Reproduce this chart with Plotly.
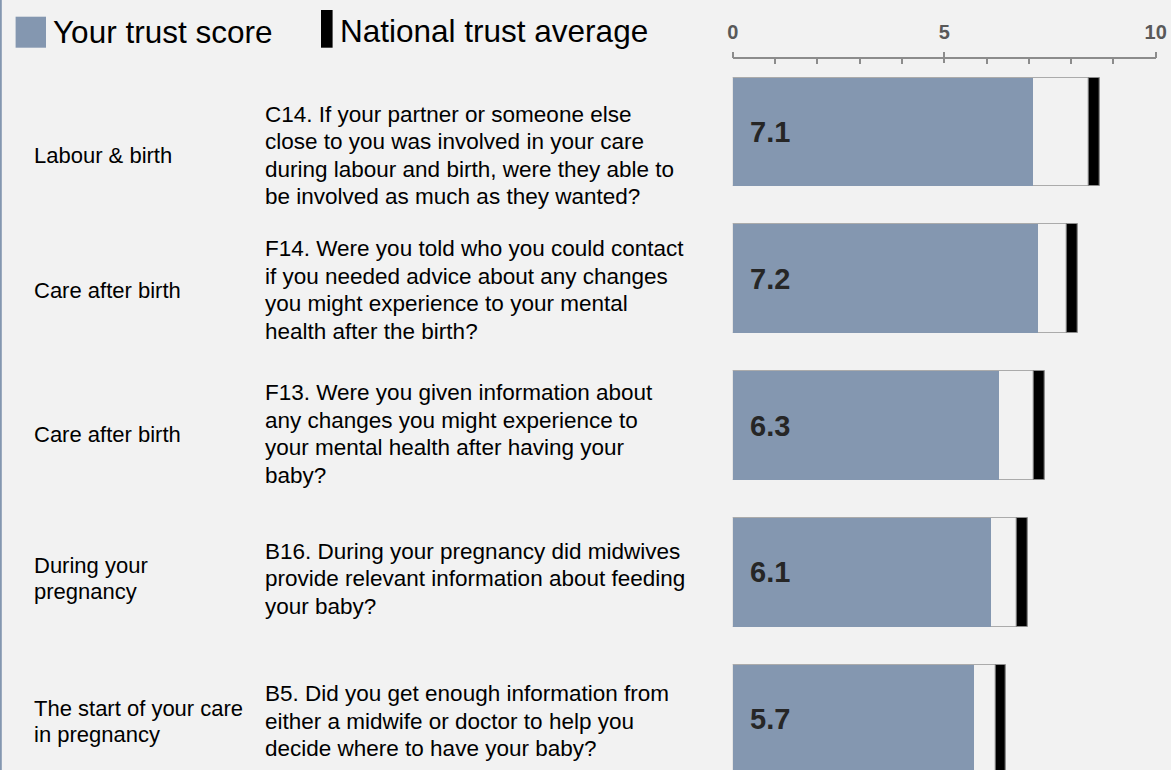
import plotly.graph_objects as go

# ---------------- data ----------------
categories = [
    ["Labour & birth"],
    ["Care after birth"],
    ["Care after birth"],
    ["During your", "pregnancy"],
    ["The start of your care", "in pregnancy"],
]
questions = [
    ["C14. If your partner or someone else",
     "close to you was involved in your care",
     "during labour and birth, were they able to",
     "be involved as much as they wanted?"],
    ["F14. Were you told who you could contact",
     "if you needed advice about any changes",
     "you might experience to your mental",
     "health after the birth?"],
    ["F13. Were you given information about",
     "any changes you might experience to",
     "your mental health after having your",
     "baby?"],
    ["B16. During your pregnancy did midwives",
     "provide relevant information about feeding",
     "your baby?"],
    ["B5. Did you get enough information from",
     "either a midwife or doctor to help you",
     "decide where to have your baby?"],
]
trust_score = [7.1, 7.2, 6.3, 6.1, 5.7]
national_avg = [8.54, 8.03, 7.24, 6.84, 6.34]
tick_vals = [0, 5, 10]
tick_text = ["0", "5", "10"]

# ---------------- styling / layout constants ----------------
W, H = 1171, 770
TOP = 59          # pixel y of the axis line (top of plot area)
BG = "#f2f2f2"
BLUE = "#8497b0"
FONT = "Liberation Sans, Arial, sans-serif"
MARK_W = 0.25     # width of national-average marker in axis units
BAR_W = 0.74
row_center_px = [155.5, 290, 434, 578.5, 721]
Q_LINE = 27.5
C_LINE = 26

rows = list(range(len(trust_score)))


def py(p):
    """pixel y -> paper y"""
    return (H - p) / (H - TOP)


def px(p):
    return p / W


fig = go.Figure()

# background bar up to national-average marker
fig.add_trace(go.Bar(
    y=rows, x=[n + MARK_W / 2 for n in national_avg], orientation="h",
    width=BAR_W, marker=dict(color=BG, line=dict(color="#ababab", width=1)),
    hoverinfo="skip", showlegend=False))
# national average marker
fig.add_trace(go.Bar(
    y=rows, x=[MARK_W] * len(rows), base=[n - MARK_W / 2 for n in national_avg],
    orientation="h", width=BAR_W,
    marker=dict(color="#000000", line=dict(color="#8c8c8c", width=1)),
    hoverinfo="skip", showlegend=False))
# trust score (on the overlaid axis that carries the tick labels)
fig.add_trace(go.Bar(
    y=rows, x=trust_score, orientation="h", width=BAR_W, xaxis="x2",
    marker=dict(color=BLUE, line=dict(width=0)),
    hoverinfo="skip", showlegend=False))

annotations = []
for i, v in enumerate(trust_score):
    annotations.append(dict(
        x=0, y=i, xref="x", yref="y", text=f"{v:.1f}", showarrow=False,
        xanchor="left", yanchor="middle", xshift=15,
        font=dict(family=FONT, size=29, color="#262626", weight="bold")))

for i, lines in enumerate(categories):
    n = len(lines)
    for k, t in enumerate(lines):
        cy = row_center_px[i] + (k - (n - 1) / 2) * C_LINE
        annotations.append(dict(
            x=px(32), y=py(cy), xref="paper", yref="paper", text=t,
            showarrow=False, xanchor="left", yanchor="middle",
            font=dict(family=FONT, size=22, color="#000000")))

for i, lines in enumerate(questions):
    n = len(lines)
    for k, t in enumerate(lines):
        cy = row_center_px[i] + (k - (n - 1) / 2) * Q_LINE
        annotations.append(dict(
            x=px(263), y=py(cy), xref="paper", yref="paper", text=t,
            showarrow=False, xanchor="left", yanchor="middle",
            font=dict(family=FONT, size=22.5, color="#000000")))

# legend text
annotations.append(dict(x=px(51), y=py(32), xref="paper", yref="paper",
                        text="Your trust score", showarrow=False,
                        xanchor="left", yanchor="middle",
                        font=dict(family=FONT, size=31.5, color="#000000")))
annotations.append(dict(x=px(338), y=py(31), xref="paper", yref="paper",
                        text="National trust average", showarrow=False,
                        xanchor="left", yanchor="middle",
                        font=dict(family=FONT, size=31.5, color="#000000")))

shapes = [
    # legend keys
    dict(type="rect", xref="paper", yref="paper",
         x0=px(15.6), x1=px(46), y0=py(47.7), y1=py(16.7),
         fillcolor=BLUE, line=dict(width=0)),
    dict(type="rect", xref="paper", yref="paper",
         x0=px(321), x1=px(332.6), y0=py(47.7), y1=py(10),
         fillcolor="#000000", line=dict(width=0)),
    # left border
    dict(type="line", xref="paper", yref="paper",
         x0=px(0.8), x1=px(0.8), y0=py(H), y1=py(0),
         line=dict(color=BLUE, width=2)),
]

axis_col = "#8c8c8c"
fig.update_layout(
    width=W, height=H, autosize=False,
    margin=dict(l=0, r=0, t=TOP, b=0, pad=0, autoexpand=False),
    paper_bgcolor=BG, plot_bgcolor=BG,
    barmode="overlay", bargap=0,
    showlegend=False,
    annotations=annotations, shapes=shapes,
    xaxis=dict(
        domain=[732.7 / W, 1155.7 / W], range=[0, 10], side="top",
        automargin=False,
        showgrid=False, zeroline=False, showline=True, linecolor=axis_col,
        linewidth=2, ticks="inside", ticklen=4, tickwidth=2, tickcolor=axis_col,
        tick0=0, dtick=5, showticklabels=False,
        minor=dict(ticks="inside", ticklen=5, tickwidth=2, tickcolor=axis_col,
                   dtick=1, tick0=0, showgrid=False),
        fixedrange=True),
    xaxis2=dict(
        domain=[732.7 / W, 1155.7 / W], range=[0, 10], side="top",
        overlaying="x", anchor="y", matches="x", automargin=False,
        showgrid=False, zeroline=False, showline=False,
        ticks="outside", ticklen=6, tickwidth=2, tickcolor=axis_col,
        tickmode="array", tickvals=tick_vals, ticktext=tick_text,
        ticklabelstandoff=5,
        tickfont=dict(family=FONT, size=20, color="#595959", weight="bold"),
        fixedrange=True),
    yaxis=dict(range=[4.346, -0.497], showgrid=False, zeroline=False,
               automargin=False,
               showticklabels=False, ticks="", showline=False, fixedrange=True),
)

post = (
    "document.documentElement.style.margin='0';"
    "document.documentElement.style.padding='0';"
    "document.documentElement.style.background='#f2f2f2';"
    "document.body.style.margin='0';"
    "document.body.style.padding='0';"
    "document.body.style.background='#f2f2f2';"
    "var d=document.getElementById('{plot_id}');"
    "d.style.position='fixed';d.style.left='0px';d.style.top='0px';"
)

fig.write_html("out.html", config={"displayModeBar": False}, post_script=post)
